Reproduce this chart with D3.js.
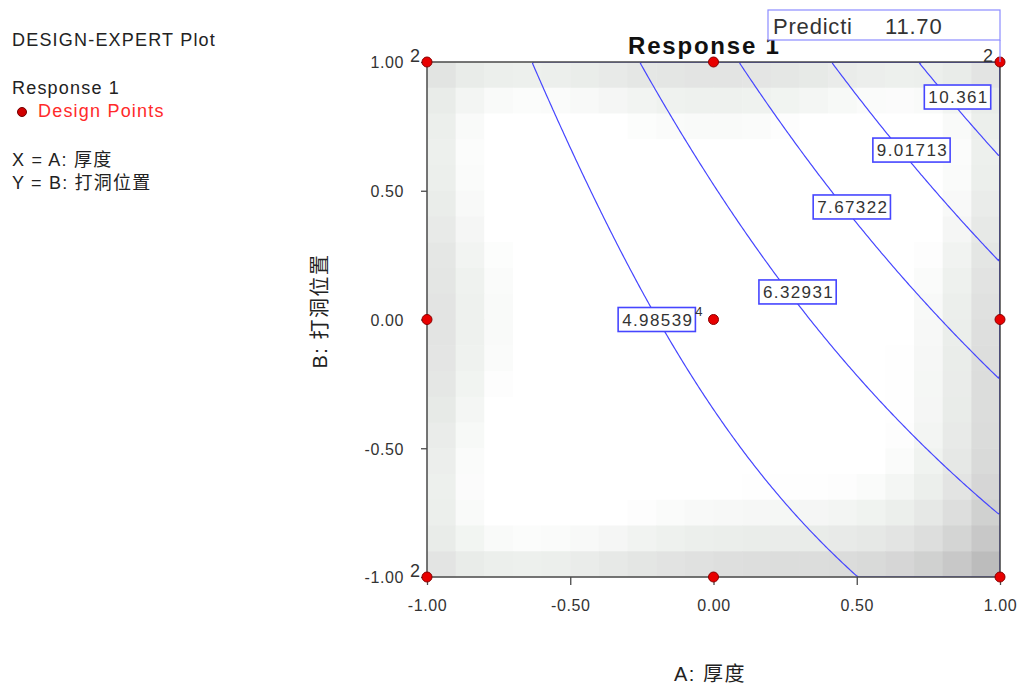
<!DOCTYPE html>
<html>
<head>
<meta charset="utf-8">
<script src="https://cdn.jsdelivr.net/npm/d3@7"></script>
<style>
  body { margin: 0; background: #fff; }
  text { font-family: "Liberation Sans", Arial, "Noto Sans CJK SC", sans-serif; }
</style>
</head>
<body>
<svg id="chart" width="1021" height="686"></svg>
<script>
// Fitted quadratic model: Response 1 = b0 + b1*A + b2*B + b12*A*B + b11*A^2 + b22*B^2
const modelTerms = ["Intercept", "A", "B", "AB", "A^2", "B^2"];
const modelCoefs = [5.45, 2.47, 1.47, 1.48, 0.42, 0.40];

// Contour levels shown on the plot
const contourLevels = [4.98539, 6.32931, 7.67322, 9.01713, 10.361];

// Design points (coded units) and number of replicate runs at each
const designA = [-1, 0, 1, -1, 0, 1, -1, 0, 1];
const designB = [-1, -1, -1, 0, 0, 0, 1, 1, 1];
const designReps = [2, 1, 1, 1, 4, 1, 2, 1, 2];

// Axis ticks
const tickValues = [-1, -0.5, 0, 0.5, 1];
const tickLabels = ["-1.00", "-0.50", "0.00", "0.50", "1.00"];

// Point prediction flag
const predictionA = 1, predictionB = 1;
const predictionLabel = "Predicti";
const predictionValue = "11.70";

// ---- layout ----
const plot = { left: 427, right: 1000, top: 62, bottom: 577 };
const labelRowsB = [0, 0.107, 0.437, 0.658, 0.864]; // B-coordinate where each contour label sits
const labelShiftPx = [0, 10, 9, 12, 11];             // horizontal nudge of each label box
const shadeCells = 20;

const svg = d3.select("#chart");
const x = d3.scaleLinear().domain([-1, 1]).range([plot.left, plot.right]);
const y = d3.scaleLinear().domain([-1, 1]).range([plot.bottom, plot.top]);

const termsAt = (a, b) => [1, a, b, a * b, a * a, b * b];
const predict = (a, b) => d3.sum(termsAt(a, b), (t, i) => t * modelCoefs[i]);

// ---- prediction variance of the design, used for the grey shading ----
function invert(M) {
  const n = M.length;
  const A = M.map((r, i) => r.concat(d3.range(n).map(j => (i === j ? 1 : 0))));
  for (let c = 0; c < n; c++) {
    let p = c;
    for (let r = c + 1; r < n; r++) if (Math.abs(A[r][c]) > Math.abs(A[p][c])) p = r;
    [A[c], A[p]] = [A[p], A[c]];
    const d = A[c][c];
    for (let k = 0; k < 2 * n; k++) A[c][k] /= d;
    for (let r = 0; r < n; r++) {
      if (r === c) continue;
      const f = A[r][c];
      for (let k = 0; k < 2 * n; k++) A[r][k] -= f * A[c][k];
    }
  }
  return A.map(r => r.slice(n));
}
const p = modelTerms.length;
const XtX = d3.range(p).map(() => new Array(p).fill(0));
designA.forEach((a, k) => {
  const f = termsAt(a, designB[k]);
  for (let i = 0; i < p; i++) for (let j = 0; j < p; j++) XtX[i][j] += designReps[k] * f[i] * f[j];
});
const XtXinv = invert(XtX);
const predVar = (a, b) => {
  const f = termsAt(a, b);
  let s = 0;
  for (let i = 0; i < p; i++) for (let j = 0; j < p; j++) s += f[i] * XtXinv[i][j] * f[j];
  return s;
};

const cellIdx = d3.range(shadeCells);
const cx = d3.scaleBand().domain(cellIdx).range([plot.left, plot.right]);
const cy = d3.scaleBand().domain(cellIdx).range([plot.top, plot.bottom]);
const cellCenter = i => -1 + 2 * (i + 0.5) / shadeCells;

const cells = [];
cellIdx.forEach(j => cellIdx.forEach(i => {
  cells.push({ i, j, v: predVar(cellCenter(i), -cellCenter(j)) });
}));
const [vMin, vMax] = d3.extent(cells, d => d.v);
const shade = d3.scaleLinear()
  .domain([0, 0.1, 0.25, 0.5, 1].map(t => vMin + t * (vMax - vMin)))
  .range(["#ffffff", "#ffffff", "#eef1ee", "#dcdddc", "#bcbcbc"])
  .clamp(true);

svg.append("g").selectAll("rect").data(cells).join("rect")
  .attr("x", d => cx(d.i)).attr("y", d => cy(d.j))
  .attr("width", cx.bandwidth() + 0.5).attr("height", cy.bandwidth() + 0.5)
  .attr("fill", d => shade(d.v));

// ---- contour lines ----
const gridN = 180;
const grid = new Float64Array(gridN * gridN);
for (let j = 0; j < gridN; j++) {
  for (let i = 0; i < gridN; i++) {
    grid[j * gridN + i] = predict(-1 + 2 * (i + 0.5) / gridN, 1 - 2 * (j + 0.5) / gridN);
  }
}
const contours = d3.contours().size([gridN, gridN]).thresholds(contourLevels)(grid);
const gx = d3.scaleLinear().domain([0, gridN]).range([plot.left, plot.right]);
const gy = d3.scaleLinear().domain([0, gridN]).range([plot.top, plot.bottom]);
const projPath = d3.geoPath(d3.geoTransform({
  point(px, py) { this.stream.point(gx(px), gy(py)); }
}));

svg.append("clipPath").attr("id", "plotClip").append("rect")
  .attr("x", plot.left).attr("y", plot.top)
  .attr("width", plot.right - plot.left).attr("height", plot.bottom - plot.top);

svg.append("g").attr("clip-path", "url(#plotClip)")
  .selectAll("path").data(contours).join("path")
  .attr("d", projPath)
  .attr("fill", "none")
  .attr("stroke", "#4646ff")
  .attr("stroke-width", 1.2);

// ---- frame and ticks ----
svg.append("rect")
  .attr("x", plot.left).attr("y", plot.top)
  .attr("width", plot.right - plot.left).attr("height", plot.bottom - plot.top)
  .attr("fill", "none").attr("stroke", "#4a4a4a").attr("stroke-width", 1.5);

const xAxis = d3.axisBottom(x).tickValues(tickValues).tickFormat((d, i) => tickLabels[i])
  .tickSize(8).tickSizeOuter(0).tickPadding(15);
const gxa = svg.append("g").attr("transform", `translate(0,${plot.bottom})`).call(xAxis);
const yAxis = d3.axisLeft(y).tickValues(tickValues).tickFormat((d, i) => tickLabels[i])
  .tickSize(6).tickSizeOuter(0).tickPadding(17);
const gya = svg.append("g").attr("transform", `translate(${plot.left},0)`).call(yAxis);
[gxa, gya].forEach(g => {
  g.select(".domain").remove();
  g.selectAll("line").attr("stroke", "#4a4a4a").attr("stroke-width", 1.3);
  g.selectAll("text").attr("fill", "#333").style("font-size", "16px")
    .style("letter-spacing", "0.6px")
    .style("font-family", "'Liberation Sans', Arial, sans-serif");
});
gya.selectAll("text").attr("dy", "0.36em");

// ---- contour labels ----
function solveA(level, b) {
  let lo = -1, hi = 1;
  for (let k = 0; k < 60; k++) {
    const mid = (lo + hi) / 2;
    if (predict(mid, b) < level) lo = mid; else hi = mid;
  }
  return (lo + hi) / 2;
}
const labelG = svg.append("g");
contourLevels.forEach((lv, k) => {
  const b = labelRowsB[k];
  const a = solveA(lv, b);
  const g = labelG.append("g").attr("transform", `translate(${x(a) + labelShiftPx[k]},${y(b)})`);
  const t = g.append("text").text(String(lv))
    .attr("text-anchor", "middle").attr("dy", "0.36em")
    .attr("fill", "#333").style("font-size", "17px").style("letter-spacing", "1.4px");
  const bb = t.node().getBBox();
  g.insert("rect", "text")
    .attr("x", bb.x - 4).attr("y", -12)
    .attr("width", bb.width + 6).attr("height", 24)
    .attr("fill", "#fff").attr("stroke", "#4646ff").attr("stroke-width", 1.6);
});

// ---- design points and replicate counts ----
const pts = designA.map((a, k) => ({ a, b: designB[k], reps: designReps[k] }));
svg.append("g").selectAll("text").data(pts.filter(d => d.reps > 1)).join("text")
  .attr("x", d => x(d.a) - (d.a === 0 ? 11 : 7))
  .attr("y", d => y(d.b) - (d.a === 0 ? 4 : 0))
  .attr("text-anchor", "end")
  .attr("fill", "#333")
  .style("font-size", d => (d.a === 0 ? "13px" : "18px"))
  .text(d => d.reps);
svg.append("g").selectAll("circle").data(pts).join("circle")
  .attr("cx", d => x(d.a)).attr("cy", d => y(d.b)).attr("r", 5)
  .attr("fill", "#e80000").attr("stroke", "#8a0000").attr("stroke-width", 1);

// ---- title and prediction flag ----
svg.append("text").attr("x", 628).attr("y", 54)
  .attr("fill", "#111").style("font-size", "24px").style("font-weight", "bold")
  .style("letter-spacing", "1.8px").text("Response 1");

const flagX = x(predictionA), flagY = y(predictionB);
svg.append("line").attr("x1", flagX).attr("x2", flagX).attr("y1", 40).attr("y2", flagY)
  .attr("stroke", "#8c8cff").attr("stroke-width", 1.2);
svg.append("rect").attr("x", 768).attr("y", 10).attr("width", flagX - 768).attr("height", 30)
  .attr("fill", "#fff").attr("stroke", "#8c8cff").attr("stroke-width", 1.2);
svg.append("text").attr("x", 773).attr("y", 34).attr("fill", "#333")
  .style("font-size", "22px").style("letter-spacing", "0.8px").text(predictionLabel);
svg.append("text").attr("x", 885).attr("y", 34).attr("fill", "#333")
  .style("font-size", "22px").style("letter-spacing", "0.8px").text(predictionValue);

// ---- axis titles ----
svg.append("text").attr("x", 710).attr("y", 681).attr("text-anchor", "middle")
  .attr("fill", "#222").style("font-size", "20px").style("letter-spacing", "1.5px")
  .text("A: 厚度");
svg.append("text").attr("transform", "translate(327,311) rotate(-90)")
  .attr("text-anchor", "middle").attr("fill", "#222").style("font-size", "20px")
  .style("letter-spacing", "1.5px").text("B: 打洞位置");

// ---- legend ----
const leg = svg.append("g").attr("fill", "#222").style("font-size", "18px")
  .style("letter-spacing", "1.2px");
leg.append("text").attr("x", 12).attr("y", 46).text("DESIGN-EXPERT Plot");
leg.append("text").attr("x", 12).attr("y", 94).text("Response 1");
leg.append("circle").attr("cx", 22).attr("cy", 112).attr("r", 4.5)
  .attr("fill", "#d00000").attr("stroke", "#700000");
leg.append("text").attr("x", 38).attr("y", 117).attr("fill", "#ff2a2a").text("Design Points");
leg.append("text").attr("x", 12).attr("y", 166).text("X = A: 厚度");
leg.append("text").attr("x", 12).attr("y", 189).text("Y = B: 打洞位置");
</script>
</body>
</html>
